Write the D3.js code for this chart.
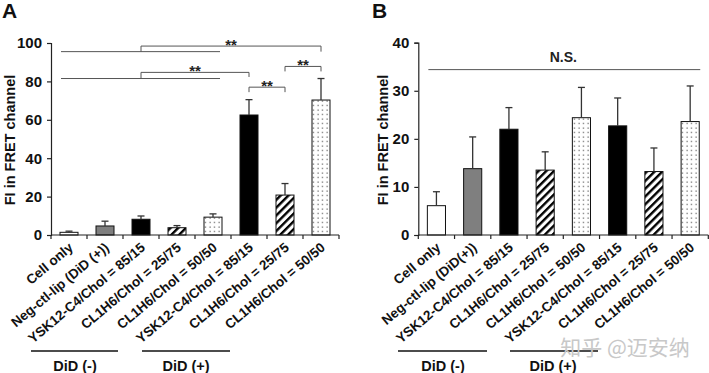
<!DOCTYPE html>
<html>
<head>
<meta charset="utf-8">
<script src="https://d3js.org/d3.v7.min.js"></script>
<style>
body { margin: 0; background: #fff; }
svg { display: block; font-family: "Liberation Sans", Arial, sans-serif; font-weight: bold; }
</style>
</head>
<body>
<div id="chart"></div>
<script>
// categories (tick labels) for each panel
const labelsA = ["Cell only", "Neg-ctl-lip (DiD (+))", "YSK12-C4/Chol = 85/15", "CL1H6/Chol = 25/75",
  "CL1H6/Chol = 50/50", "YSK12-C4/Chol = 85/15", "CL1H6/Chol = 25/75", "CL1H6/Chol = 50/50"];
const labelsB = ["Cell only", "Neg-ctl-lip (DiD(+))", "YSK12-C4/Chol = 85/15", "CL1H6/Chol = 25/75",
  "CL1H6/Chol = 50/50", "YSK12-C4/Chol = 85/15", "CL1H6/Chol = 25/75", "CL1H6/Chol = 50/50"];
// fill style per bar
const fills = ["white", "gray", "black", "hatch", "dots", "black", "hatch", "dots"];

// values and upper error (mean + sd)
const meanA = [1.4, 4.7, 8.2, 3.8, 9.3, 62.5, 20.8, 70.3];
const topA  = [2.0, 7.2, 9.9, 4.9, 11.0, 70.5, 26.8, 81.5];
const meanB = [6.1, 13.8, 22.0, 13.5, 24.4, 22.7, 13.2, 23.6];
const topB  = [9.0, 20.4, 26.5, 17.3, 30.7, 28.5, 18.1, 31.0];

const ticksA = [0, 20, 40, 60, 80, 100];
const ticksB = [0, 10, 20, 30, 40];

// significance marks for panel A (bar indices, levels in data units)
const longLinesA = [{from: 0, to: 4, y: 95.5}, {from: 0, to: 4, y: 81.5}];
const bracketsA = [
  {from: 2, to: 7, y: 98.4, yL: 95.5, yR: 95.5, text: "**"},
  {from: 2, to: 5, y: 84.7, yL: 81.5, yR: 82.3, text: "**"},
  {from: 5, to: 6, y: 77.0, yL: 74.4, yR: 74.4, text: "**"},
  {from: 6, to: 7, y: 87.8, yL: 85.2, yR: 85.2, text: "**"}
];
const nsB = {from: 0, to: 7, y: 34.4, text: "N.S."};

const groups = [{text: "DiD (-)"}, {text: "DiD (+)"}];

const W = 709, H = 373;
const FONT = "Liberation Sans, Arial, sans-serif";
const svg = d3.select("#chart").append("svg").attr("width", W).attr("height", H);

const defs = svg.append("defs");
const hatch = defs.append("pattern").attr("id", "hatch").attr("patternUnits", "userSpaceOnUse")
  .attr("width", 5.5).attr("height", 5.5).attr("patternTransform", "rotate(45)");
hatch.append("rect").attr("width", 5.5).attr("height", 5.5).attr("fill", "white");
hatch.append("rect").attr("x", 0).attr("width", 2.4).attr("height", 5.5).attr("fill", "black");
const dots = defs.append("pattern").attr("id", "dots").attr("patternUnits", "userSpaceOnUse")
  .attr("width", 4.5).attr("height", 4.5).attr("x", 1);
dots.append("rect").attr("width", 4.5).attr("height", 4.5).attr("fill", "white");
dots.append("rect").attr("x", 1.5).attr("y", 1.5).attr("width", 1.1).attr("height", 1.1).attr("fill", "#333");

function fillOf(f) {
  if (f === "hatch") return "url(#hatch)";
  if (f === "dots") return "url(#dots)";
  if (f === "gray") return "#7f7f7f";
  return f;
}

function panel(opt) {
  const g = svg.append("g");
  const x = d3.scaleBand().domain(d3.range(opt.labels.length)).range(opt.xr)
    .paddingInner(0.5).paddingOuter(0.25);
  const y = d3.scaleLinear().domain([0, opt.ymax]).range([235, opt.ytop]);
  const step = x.step();
  const x0 = opt.xr[0];

  // bars
  g.selectAll("rect.bar").data(opt.mean).join("rect")
    .attr("x", (d, i) => x(i)).attr("y", d => y(d))
    .attr("width", x.bandwidth()).attr("height", d => y(0) - y(d))
    .attr("fill", (d, i) => fillOf(fills[i])).attr("stroke", "#111").attr("stroke-width", 1);

  // error bars
  const eb = g.selectAll("g.err").data(opt.top).join("g");
  eb.append("line").attr("x1", (d, i) => x(i) + x.bandwidth() / 2).attr("x2", (d, i) => x(i) + x.bandwidth() / 2)
    .attr("y1", (d, i) => y(opt.mean[i])).attr("y2", d => y(d)).attr("stroke", "#333").attr("stroke-width", 1.3);
  eb.append("line").attr("x1", (d, i) => x(i) + x.bandwidth() / 2 - 3.5).attr("x2", (d, i) => x(i) + x.bandwidth() / 2 + 3.5)
    .attr("y1", d => y(d)).attr("y2", d => y(d)).attr("stroke", "#333").attr("stroke-width", 1.3);

  // y axis
  const ya = g.append("g").attr("transform", `translate(${x0},0)`)
    .call(d3.axisLeft(y).tickValues(opt.ticks).tickSize(4).tickPadding(5));
  ya.attr("font-family", FONT).attr("font-size", 15).attr("font-weight", "bold");
  ya.select(".domain").attr("stroke", "#222").attr("stroke-width", 1.2);
  ya.selectAll(".tick line").attr("stroke", "#222").attr("stroke-width", 1.2);
  ya.selectAll(".tick text").attr("fill", "#111");

  // x axis: line with boundary ticks
  const xa = g.append("g").attr("transform", "translate(0,235)");
  xa.append("line").attr("x1", x0).attr("x2", opt.xr[1]).attr("stroke", "#222").attr("stroke-width", 1.2);
  xa.selectAll("line.t").data(d3.range(opt.labels.length + 1)).join("line")
    .attr("x1", i => x0 + i * step).attr("x2", i => x0 + i * step).attr("y1", 0).attr("y2", 4)
    .attr("stroke", "#222").attr("stroke-width", 1.2);
  xa.selectAll("text").data(opt.labels).join("text")
    .attr("transform", (d, i) => `translate(${x(i) + x.bandwidth() / 2 + 5},14) rotate(-40)`)
    .attr("text-anchor", "end").attr("font-size", 13.5).attr("fill", "#111").text(d => d);

  // y title
  g.append("text").attr("transform", `translate(${opt.titleX},140) rotate(-90)`)
    .attr("text-anchor", "middle").attr("font-size", 14.5).attr("fill", "#111").text("FI in FRET channel");

  // panel letter
  g.append("text").attr("x", opt.letterX).attr("y", 18).attr("font-size", 21).attr("fill", "#111").text(opt.letter);

  // group lines
  groups.forEach((gr, k) => {
    const lx1 = opt.groupX[k][0], lx2 = opt.groupX[k][1];
    g.append("line").attr("x1", lx1).attr("x2", lx2).attr("y1", 351).attr("y2", 351)
      .attr("stroke", "#111").attr("stroke-width", 1.4);
    g.append("text").attr("x", opt.groupT[k]).attr("y", 371).attr("text-anchor", "middle")
      .attr("font-size", 14.5).attr("fill", "#111").text(gr.text);
  });
  return {g, x, y};
}

const A = panel({labels: labelsA, mean: meanA, top: topA, ymax: 100, ytop: 43, ticks: ticksA,
  xr: [51, 339], titleX: 15, letter: "A", letterX: 2,
  groupX: [[31, 118], [142, 230]], groupT: [75, 186]});
const B = panel({labels: labelsB, mean: meanB, top: topB, ymax: 40, ytop: 42.7, ticks: ticksB,
  xr: [418.3, 708.3], titleX: 388, letter: "B", letterX: 372,
  groupX: [[398, 487], [510, 598]], groupT: [443, 553]});

// significance marks A
const cx = (p, i) => p.x(i) + p.x.bandwidth() / 2;
longLinesA.forEach(l => {
  A.g.append("line").attr("x1", A.x(l.from) + 1).attr("x2", A.x(l.to) + A.x.bandwidth() - 2)
    .attr("y1", A.y(l.y)).attr("y2", A.y(l.y)).attr("stroke", "#555").attr("stroke-width", 1);
});
bracketsA.forEach(b => {
  const x1 = cx(A, b.from), x2 = cx(A, b.to);
  A.g.append("path")
    .attr("d", `M${x1},${A.y(b.yL)}V${A.y(b.y)}H${x2}V${A.y(b.yR)}`)
    .attr("fill", "none").attr("stroke", "#555").attr("stroke-width", 1);
  A.g.append("text").attr("x", (x1 + x2) / 2).attr("y", A.y(b.y) + 4).attr("text-anchor", "middle")
    .attr("font-size", 15).attr("fill", "#222").text(b.text);
});

// N.S. line B
B.g.append("line").attr("x1", B.x(nsB.from) + 1).attr("x2", B.x(nsB.to) + B.x.bandwidth() + 1)
  .attr("y1", B.y(nsB.y)).attr("y2", B.y(nsB.y)).attr("stroke", "#555").attr("stroke-width", 1);
B.g.append("text").attr("x", (cx(B, nsB.from) + cx(B, nsB.to)) / 2).attr("y", B.y(nsB.y) - 8)
  .attr("text-anchor", "middle").attr("font-size", 14).attr("fill", "#222").text(nsB.text);

// watermark
svg.append("text").attr("x", 625).attr("y", 355).attr("text-anchor", "middle")
  .attr("font-family", "Noto Sans CJK SC").attr("font-weight", "normal").attr("font-size", 21)
  .attr("fill", "#c8c8c8").text("知乎 @迈安纳");
</script>
</body>
</html>
